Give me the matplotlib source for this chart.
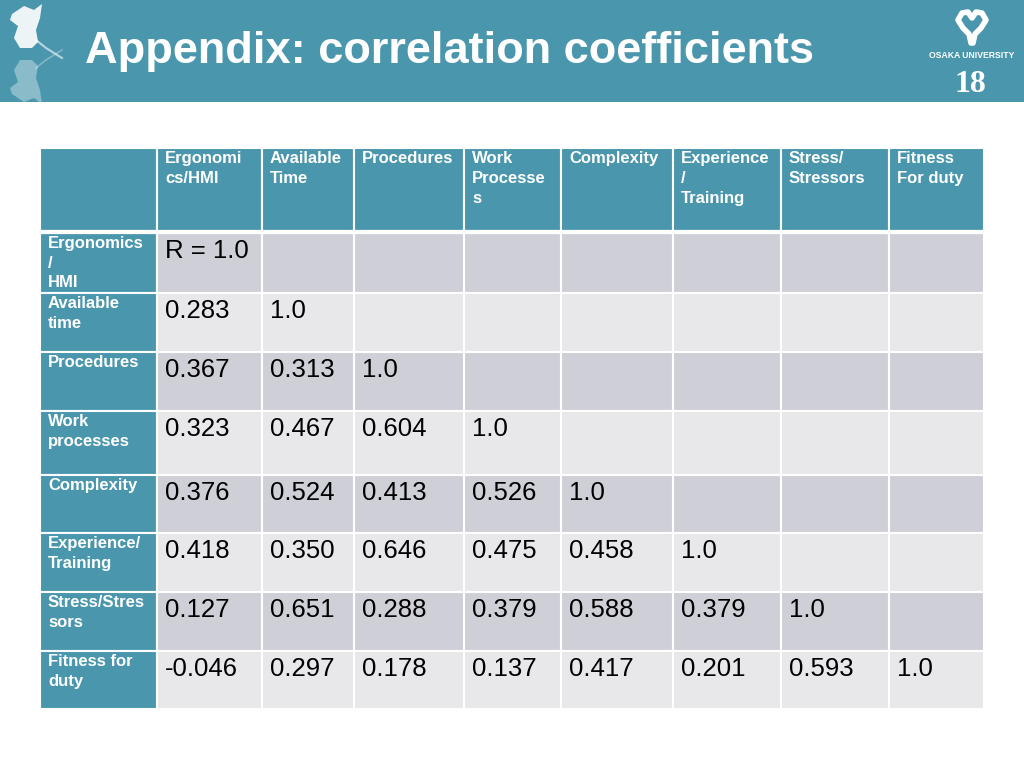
import matplotlib.pyplot as plt
from matplotlib.patches import Rectangle, Polygon, PathPatch
from matplotlib.path import Path

# --- data ---
col_labels = ['Ergonomi\ncs/HMI', 'Available\nTime', 'Procedures', 'Work\nProcesse\ns',
              'Complexity', 'Experience\n/\nTraining', 'Stress/\nStressors', 'Fitness\nFor duty']
row_labels = ['Ergonomics\n/\nHMI', 'Available\ntime', 'Procedures', 'Work\nprocesses',
              'Complexity', 'Experience/\nTraining', 'Stress/Stres\nsors', 'Fitness for\nduty']
values = [
    ['R = 1.0'],
    ['0.283', '1.0'],
    ['0.367', '0.313', '1.0'],
    ['0.323', '0.467', '0.604', '1.0'],
    ['0.376', '0.524', '0.413', '0.526', '1.0'],
    ['0.418', '0.350', '0.646', '0.475', '0.458', '1.0'],
    ['0.127', '0.651', '0.288', '0.379', '0.588', '0.379', '1.0'],
    ['-0.046', '0.297', '0.178', '0.137', '0.417', '0.201', '0.593', '1.0'],
]

# --- layout (pixels) ---
col_edges = [40, 157, 262, 354, 464, 561, 673, 781, 889, 984]
row_edges = [233, 293, 352, 411, 475, 533, 592, 651, 709]
head_top, head_bot = 148, 231

teal = '#4a97ad'
dark = '#cfcfd8'
light = '#e8e8eb'

dpi = 100
fig = plt.figure(figsize=(1024 / dpi, 768 / dpi), dpi=dpi)
ax = fig.add_axes([0, 0, 1, 1])
ax.set_xlim(0, 1024)
ax.set_ylim(768, 0)
ax.axis('off')

# title band
ax.add_patch(Rectangle((0, 0), 1024, 102, color=teal, lw=0))
ax.text(85, 52, 'Appendix: correlation coefficients', color='white', fontsize=32.5,
        fontweight='bold', family='Liberation Sans', va='center', ha='left')

# ginkgo leaf (left) and its reflection
leaf = [(12, 14), (24, 6), (34, 10), (42, 4), (40, 18), (36, 30), (38, 42),
        (32, 48), (20, 48), (14, 38), (18, 26), (10, 20)]
ax.add_patch(Polygon(leaf, closed=True, color='white', alpha=0.9, lw=0))
ax.plot([36, 46, 62], [40, 48, 58], color='white', lw=1.5, alpha=0.6)
refl = [(x, 108 - y) for x, y in leaf]
ax.add_patch(Polygon(refl, closed=True, color='white', alpha=0.35, lw=0))
ax.plot([36, 46, 62], [68, 60, 50], color='white', lw=1.2, alpha=0.3)

# Osaka University logo
verts = [(963, 28), (958, 20), (962, 13), (968, 12), (972, 18), (976, 12), (982, 13),
         (986, 20), (981, 28), (975, 34), (973, 43), (971, 43), (969, 34), (963, 28)]
codes = [Path.MOVETO] + [Path.LINETO] * (len(verts) - 2) + [Path.CLOSEPOLY]
ax.add_patch(PathPatch(Path(verts, codes), facecolor='none', edgecolor='white', lw=4,
                       joinstyle='round'))
ax.text(972, 56, 'OSAKA UNIVERSITY', color='white', fontsize=6.2, fontweight='bold',
        family='Liberation Sans', ha='center', va='center')
ax.text(970, 85, '18', color='white', fontsize=23, fontweight='bold',
        family='Liberation Serif', ha='center', va='center')

# header row
for j in range(len(col_edges) - 1):
    x0, x1 = col_edges[j], col_edges[j + 1]
    ax.add_patch(Rectangle((x0, head_top), x1 - x0, head_bot - head_top,
                           facecolor=teal, edgecolor='white', lw=1.5))
for j, lab in enumerate(col_labels):
    ax.text(col_edges[j + 1] + 8, head_top + 3, lab, color='white', fontsize=12,
            fontweight='bold', family='Liberation Sans', va='top', ha='left',
            linespacing=1.42)

# body rows
for i in range(len(row_labels)):
    y0, y1 = row_edges[i], row_edges[i + 1]
    ax.add_patch(Rectangle((col_edges[0], y0), col_edges[1] - col_edges[0], y1 - y0,
                           facecolor=teal, edgecolor='white', lw=1.5))
    ax.text(col_edges[0] + 8, y0 + 3, row_labels[i], color='white', fontsize=12,
            fontweight='bold', family='Liberation Sans', va='top', ha='left',
            linespacing=1.38)
    bg = dark if i % 2 == 0 else light
    for j in range(1, len(col_edges) - 1):
        x0, x1 = col_edges[j], col_edges[j + 1]
        ax.add_patch(Rectangle((x0, y0), x1 - x0, y1 - y0,
                               facecolor=bg, edgecolor='white', lw=1.5))
    for j, v in enumerate(values[i]):
        ax.text(col_edges[j + 1] + 8, y0 + 6, v, color='black', fontsize=18.5,
                family='Liberation Sans', va='top', ha='left')

# thicker separator under header
ax.plot([col_edges[0], col_edges[-1]], [head_bot + 1, head_bot + 1], color='white', lw=3)

fig.savefig('out.png', dpi=dpi)
